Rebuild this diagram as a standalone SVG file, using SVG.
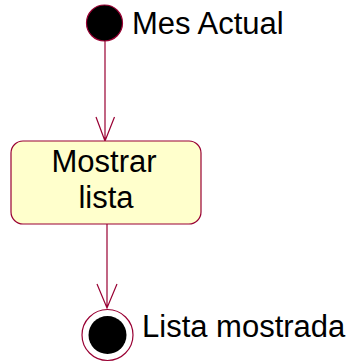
<svg xmlns="http://www.w3.org/2000/svg" width="353" height="362" viewBox="0 0 353 362">
<style>
.t{font-family:"Liberation Sans",Arial,sans-serif;font-size:31px;fill:#000}
.ln{stroke:#990033;stroke-width:1.2;fill:none}
</style>
<rect width="353" height="362" fill="#fff"/>
<g id="connectors">
<path class="ln" d="M105 41V141M96 117L105 141L114.5 117"/>
<path class="ln" d="M107 224V308M97 284L107 308L117 284"/>
</g>
<g id="start">
<circle cx="104.5" cy="23" r="18" fill="#000" stroke="#990033" stroke-width="1.2"/>
<text class="t" x="132" y="34">Mes Actual</text>
</g>
<g id="mostrar">
<rect x="11" y="141" width="190" height="83" rx="12" fill="#FFFFCC" stroke="#990033" stroke-width="1.2"/>
<text class="t" x="104" y="172" text-anchor="middle">Mostrar</text>
<text class="t" x="106" y="208" text-anchor="middle">lista</text>
</g>
<g id="end">
<circle cx="107.5" cy="335" r="25.5" fill="#fff" stroke="#990033" stroke-width="1.2"/>
<circle cx="107.5" cy="335" r="19" fill="#000"/>
<text class="t" x="142" y="337">Lista mostrada</text>
</g>
</svg>
